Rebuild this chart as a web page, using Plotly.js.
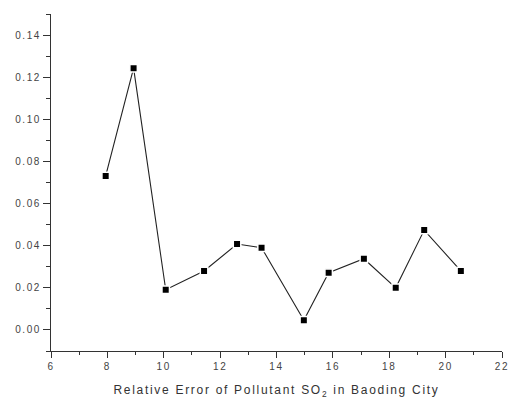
<!DOCTYPE html>
<html>
<head>
<meta charset="utf-8">
<script src="https://cdn.plot.ly/plotly-3.0.1.min.js"></script>
<style>
html,body{margin:0;padding:0;background:#fff;}
#chart{width:508px;height:399px;}
#chart .xtick text, #chart .ytick text{letter-spacing:1.6px;}
#chart .xtitle{letter-spacing:1.7px;}
</style>
</head>
<body>
<div id="chart"></div>
<script>
const xValues = [7.94, 8.93, 10.07, 11.43, 12.6, 13.47, 14.97, 15.85, 17.1, 18.23, 19.24, 20.54];
const yValues = [0.0731, 0.1243, 0.0191, 0.028, 0.0408, 0.039, 0.0046, 0.0272, 0.0338, 0.020, 0.0474, 0.028];
const xTickVals = [6, 8, 10, 12, 14, 16, 18, 20, 22];
const yTickVals = [0.00, 0.02, 0.04, 0.06, 0.08, 0.10, 0.12, 0.14];
const xTitle = 'Relative Error of Pollutant SO<sub>2</sub> in Baoding City';

const trace = {
  x: xValues, y: yValues, type: 'scatter', mode: 'lines+markers',
  line: {color: '#222', width: 1.1},
  marker: {symbol: 'square', size: 7.5, color: '#000', line: {color: '#fff', width: 1.5}},
  cliponaxis: false, showlegend: false
};
const tickFont = {family: 'Liberation Sans, Arial, sans-serif', size: 10, color: '#444'};
const layout = {
  width: 508, height: 399,
  margin: {l: 51, r: 6, t: 14, b: 48.3},
  paper_bgcolor: '#fff', plot_bgcolor: '#fff',
  xaxis: {
    range: [6, 22], tickvals: xTickVals, ticktext: xTickVals.map(String),
    ticks: 'outside', ticklen: 6, tickwidth: 1, tickcolor: '#333',
    showline: true, linecolor: '#333', linewidth: 1, showgrid: false, zeroline: false,
    tickfont: tickFont,
    minor: {dtick: 1, tick0: 7, ticks: 'outside', ticklen: 3, tickcolor: '#333', showgrid: false},
    title: {text: xTitle, font: {family: 'Liberation Sans, Arial, sans-serif', size: 12, color: '#333'}, standoff: 17}
  },
  yaxis: {
    range: [-0.01, 0.15], tickvals: yTickVals, ticktext: yTickVals.map(v => v.toFixed(2)),
    ticks: 'outside', ticklen: 7, tickwidth: 1, tickcolor: '#333',
    showline: true, linecolor: '#333', linewidth: 1, showgrid: false, zeroline: false,
    tickfont: tickFont,
    minor: {dtick: 0.01, tick0: 0.01, ticks: 'outside', ticklen: 4, tickcolor: '#333', showgrid: false}
  }
};
Plotly.newPlot('chart', [trace], layout, {displayModeBar: false, staticPlot: true});
</script>
</body>
</html>
